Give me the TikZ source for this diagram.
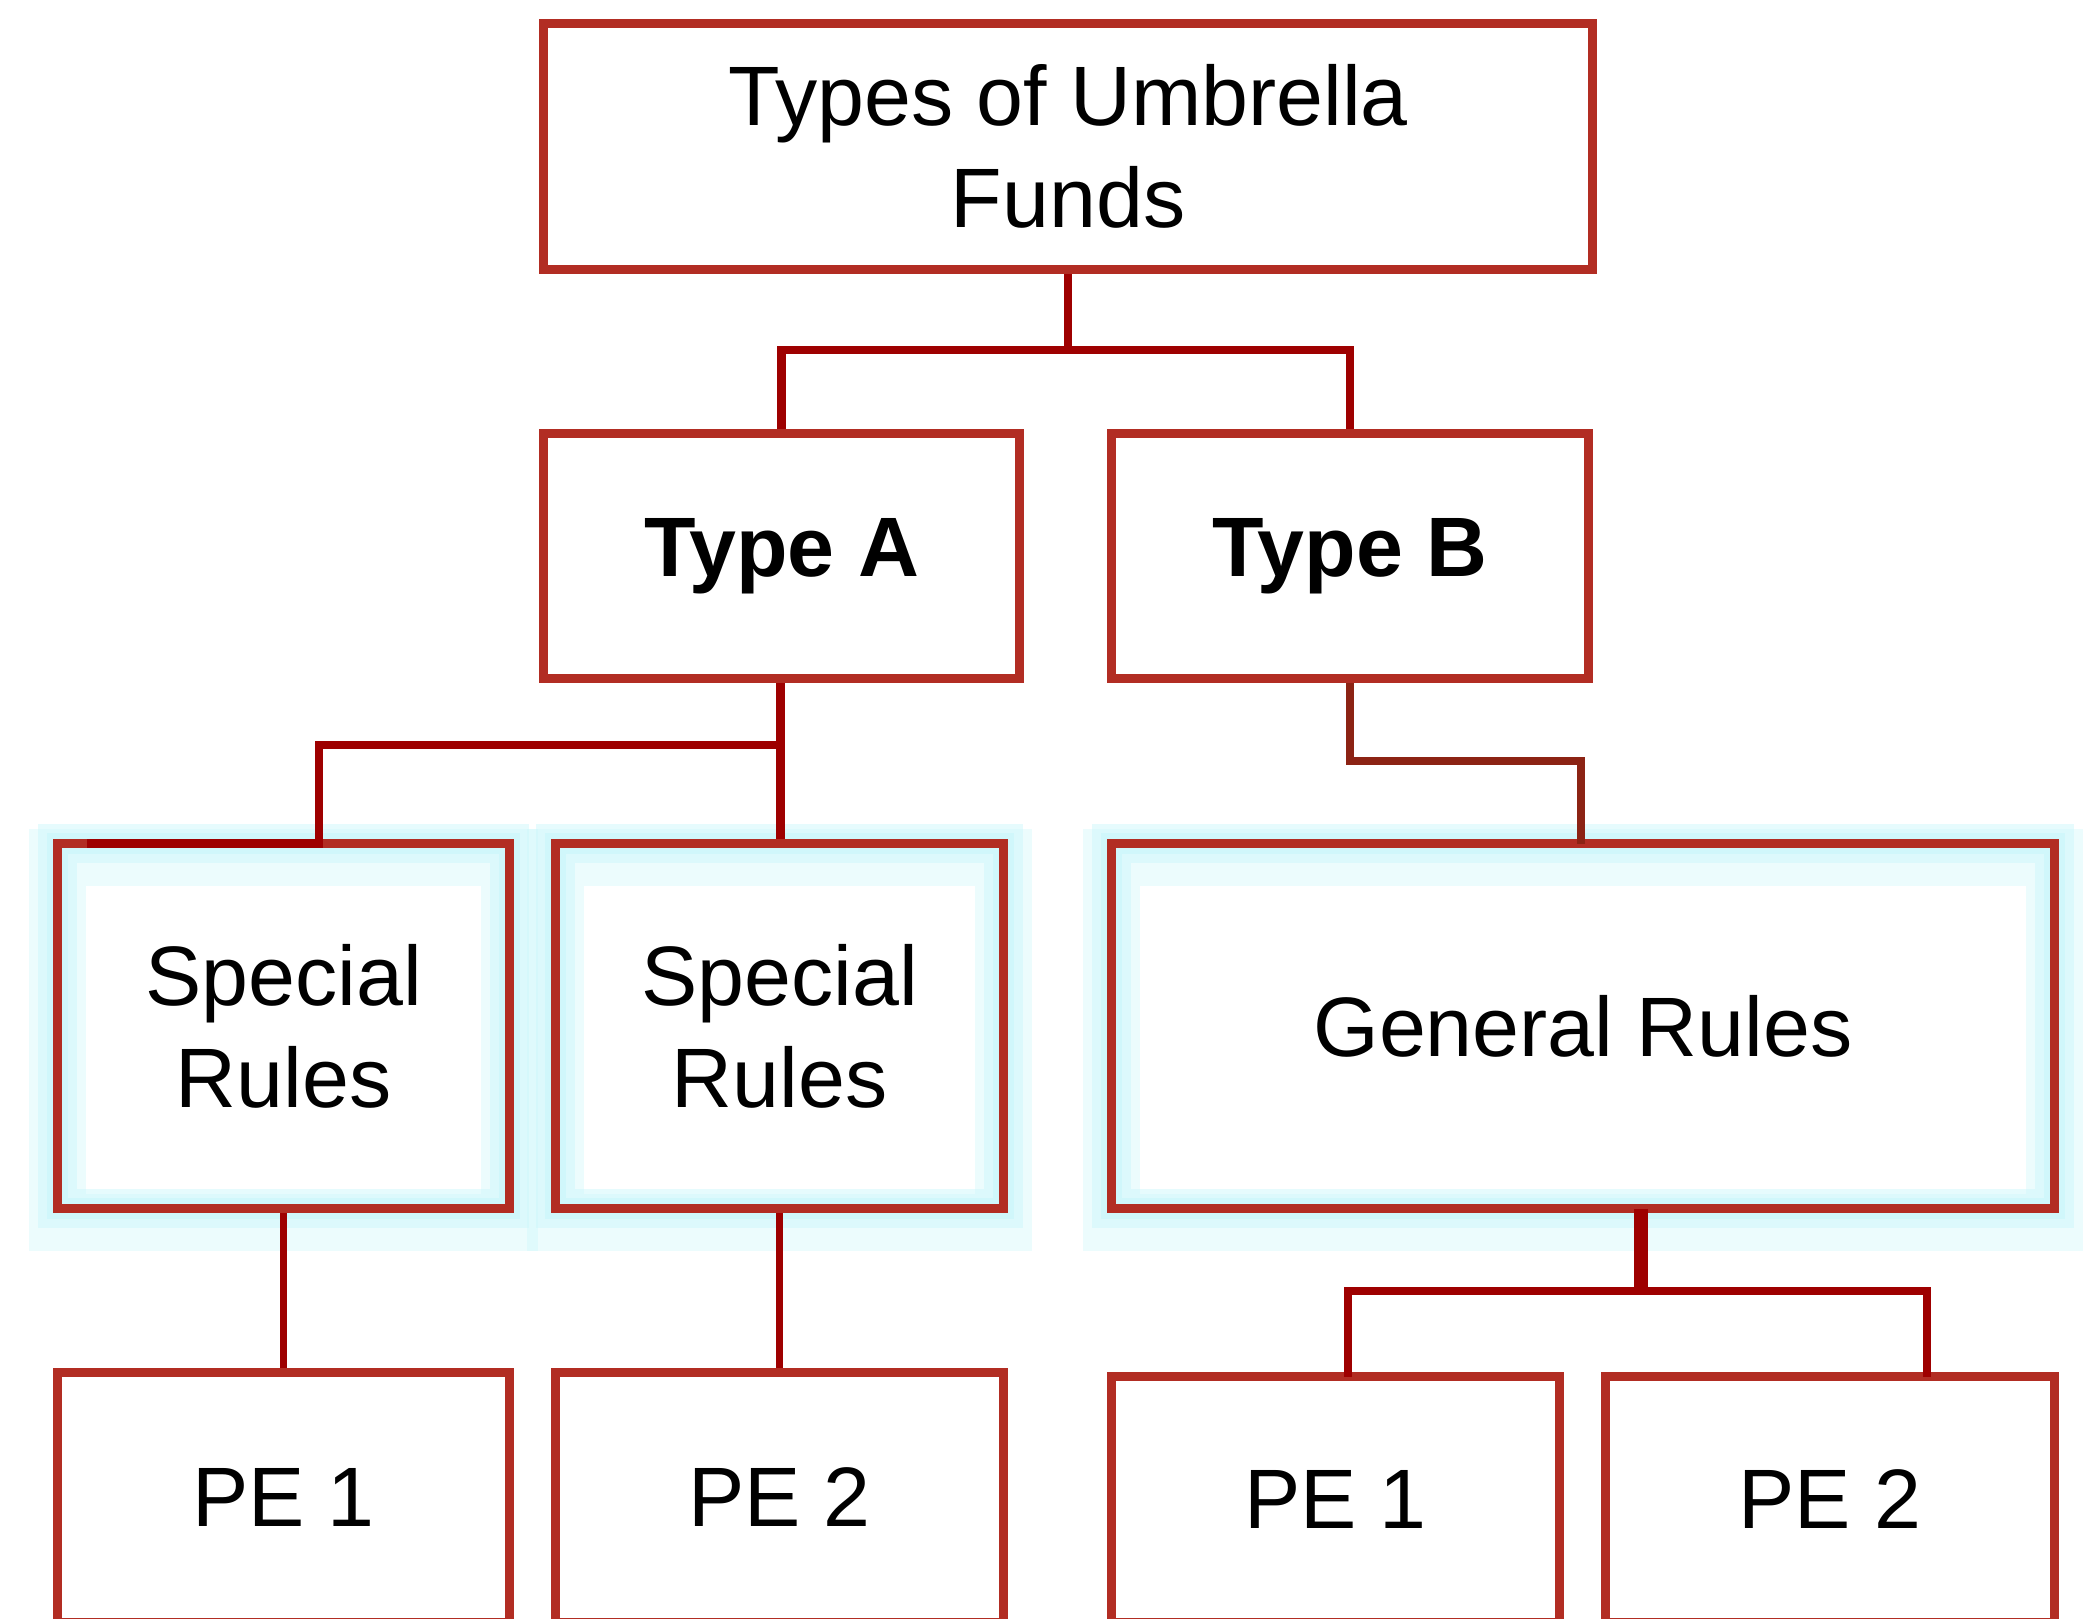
\documentclass[tikz,border=0pt]{standalone}
\usepackage{fontspec}
\setmainfont{Liberation Sans}

\definecolor{boxred}{RGB}{178,45,35}
\definecolor{linkred}{RGB}{158,0,0}
\definecolor{linkbrown}{RGB}{140,35,20}
\definecolor{glowcyan}{RGB}{200,246,250}

\tikzset{
    fundbox/.style={draw=boxred, line width=2.8pt, rectangle, align=center, inner sep=0pt,
        font=\fontsize{24}{29}\selectfont},
    typebox/.style={fundbox, font=\fontsize{24}{29}\selectfont\bfseries},
    rulebox/.style={fundbox,
        preaction={draw=glowcyan, line width=16pt, draw opacity=0.35, transform canvas={yshift=-4pt}},
        preaction={draw=glowcyan, line width=11pt, draw opacity=0.45},
        preaction={draw=glowcyan, line width=6pt, draw opacity=0.6}},
    link/.style={draw=linkred, line width=2.4pt},
}

\begin{document}
\begin{tikzpicture}
    \useasboundingbox (0,0) rectangle (20.87,-16.18);

    \node[fundbox, minimum width=10.49cm, minimum height=2.46cm] (root) at (10.68,-1.465) {Types of Umbrella\\Funds};

    \node[typebox, minimum width=4.76cm, minimum height=2.45cm] (typeA) at (7.815,-5.56) {Type A};
    \node[typebox, minimum width=4.77cm, minimum height=2.45cm] (typeB) at (13.50,-5.56) {Type B};

    \node[rulebox, minimum width=4.52cm, minimum height=3.65cm] (specA1) at (2.835,-10.26) {Special\\Rules};
    \node[rulebox, minimum width=4.48cm, minimum height=3.65cm] (specA2) at (7.795,-10.26) {Special\\Rules};
    \node[rulebox, minimum width=9.43cm, minimum height=3.65cm] (general) at (15.83,-10.26) {General Rules};

    \node[fundbox, minimum width=4.52cm, minimum height=2.50cm] (pe1a) at (2.835,-14.975) {PE 1};
    \node[fundbox, minimum width=4.48cm, minimum height=2.50cm] (pe2a) at (7.795,-14.975) {PE 2};
    \node[fundbox, minimum width=4.48cm, minimum height=2.46cm] (pe1b) at (13.355,-14.995) {PE 1};
    \node[fundbox, minimum width=4.49cm, minimum height=2.46cm] (pe2b) at (18.30,-14.995) {PE 2};

    % forks
    \coordinate (rootfork) at (10.68,-3.50);
    \coordinate (afork) at (7.805,-7.45);
    \coordinate (aland) at (3.19,-8.435);
    \coordinate (aend) at (0.87,-8.435);
    \coordinate (bfork) at (15.81,-7.61);
    \coordinate (bland) at (15.81,-8.435);
    \coordinate (gdrop) at (16.41,-12.085);
    \coordinate (gfork) at (16.41,-12.91);
    \coordinate (pe1bland) at (13.48,-13.765);
    \coordinate (pe2bland) at (19.27,-13.765);

    \draw[link] (root.south) -- (rootfork);
    \draw[link] (typeA.north) |- (rootfork) -| (typeB.north);

    \draw[link] (afork |- typeA.south) -- (afork |- specA2.north);
    \draw[link] (afork) -| (aland) -- (aend);
    \draw[link, draw=linkbrown] (typeB.south) |- (bfork) -- (bland);

    \draw[link, line width=1.9pt] (specA1.south) -- (pe1a.north);
    \draw[link, line width=1.9pt] (specA2.south) -- (pe2a.north);
    \draw[link, line width=4pt] (gdrop) -- (gfork);
    \draw[link] (pe1bland) |- (gfork) -| (pe2bland);
\end{tikzpicture}
\end{document}
